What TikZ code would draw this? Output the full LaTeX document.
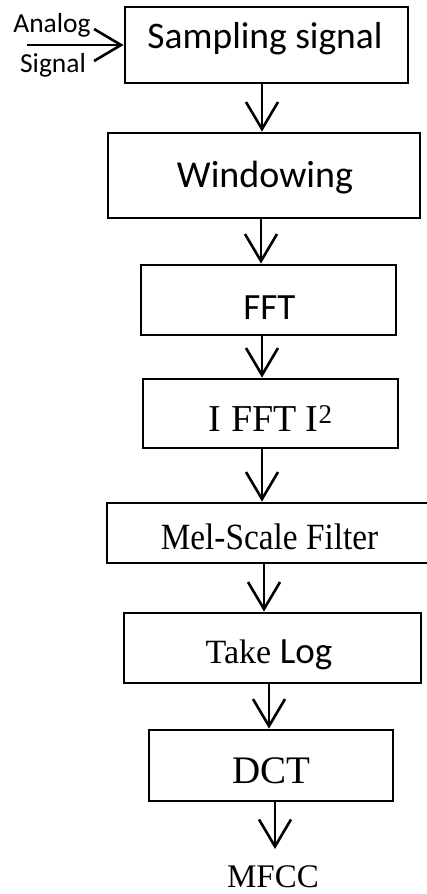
\documentclass[tikz,border=0pt]{standalone}
\usepackage{fontspec}
\usepackage{graphicx}
\usetikzlibrary{arrows.meta}
\newfontfamily\calfont{Carlito}
\newfontfamily\tmsfont{Liberation Serif}

\tikzset{
  stage/.style={draw, line width=2.8pt, inner sep=0pt, minimum width=#1},
  flow/.style={line width=2.6pt, -{Straight Barb[length=27pt,width=32pt]}},
  lbl/.style={anchor=base, inner sep=0pt},
}

\begin{document}
\begin{tikzpicture}[x=1pt,y=1pt]
\useasboundingbox (0,0) rectangle (427,-894);

% processing stages (boxes)
\node[stage=283pt, minimum height=76pt] (b1) at (266.5,-45)   {};
\node[stage=312pt, minimum height=85pt] (b2) at (264,-175.5)   {};
\node[stage=255pt, minimum height=70pt] (b3) at (268.5,-300)   {};
\node[stage=255pt, minimum height=69pt] (b4) at (270.5,-413.5) {};
\node[stage=325pt, minimum height=60pt] (b5) at (269.5,-533)   {};
\node[stage=297pt, minimum height=70pt] (b6) at (272.5,-648)   {};
\node[stage=244pt, minimum height=71pt] (b7) at (271,-765.5)   {};

% stage labels
\node[lbl] (t1) at (265,-48)    {\calfont\fontsize{37.5}{40}\selectfont Sampling signal};
\node[lbl] (t2) at (265,-187)   {\calfont\fontsize{38}{40}\selectfont Windowing};
\node[lbl] (t3) at (269.5,-319) {\calfont\fontsize{37}{40}\selectfont FFT};
\node[lbl] (t4) at (270.5,-431) {\tmsfont\fontsize{38}{40}\selectfont I FFT I\raisebox{8pt}{\fontsize{27}{27}\selectfont 2}};
\node[lbl] (t5) at (269.5,-549) {\tmsfont\fontsize{37}{40}\selectfont\scalebox{0.9}[1]{Mel-Scale Filter}};
\node[lbl] (t6) at (269,-663)   {\tmsfont\fontsize{34}{40}\selectfont Take {\calfont\fontsize{37}{40}\selectfont Log}};
\node[lbl] (t7) at (271,-783)   {\tmsfont\fontsize{39}{40}\selectfont DCT};
\node[lbl] (out) at (273,-887)  {\tmsfont\fontsize{33}{40}\selectfont MFCC};

% input
\node[lbl] (ana) at (52,-32) {\calfont\fontsize{27.5}{30}\selectfont Analog};
\node[lbl] (sig) at (53,-72) {\calfont\fontsize{27.5}{30}\selectfont Signal};
\coordinate (in) at (27,-45);
\draw[flow] (in) -- (b1.west |- in);

% flow between stages
\draw[flow] (b1.south -| 262,0) -- (b2.north -| 262,0);
\draw[flow] (b2.south -| 261,0) -- (b3.north -| 261,0);
\draw[flow] (b3.south -| 262,0) -- (b4.north -| 262,0);
\draw[flow] (b4.south -| 262,0) -- (b5.north -| 262,0);
\draw[flow] (b5.south -| 264,0) -- (b6.north -| 264,0);
\draw[flow] (b6.south -| 269,0) -- (b7.north -| 269,0);
\coordinate (outtop) at (275,-849);
\draw[flow] (b7.south -| outtop) -- (outtop);
\end{tikzpicture}
\end{document}
